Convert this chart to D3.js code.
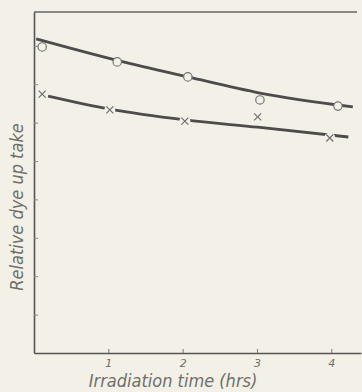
<!DOCTYPE html>
<html>
<head>
<meta charset="utf-8">
<script src="https://cdn.jsdelivr.net/npm/d3@7"></script>
<style>
  html, body { margin: 0; padding: 0; background: #f3f0e7; }
  svg { display: block; }
  text { font-family: "DejaVu Sans", sans-serif; font-style: italic; fill: #6f6f6a; }
</style>
</head>
<body>
<div id="chart"></div>
<script>
// measured points (hrs, relative uptake)
var circleX = [0.11, 1.12, 2.07, 3.04, 4.09];
var circleY = [0.797, 0.758, 0.719, 0.659, 0.643];
var crossX = [0.11, 1.02, 2.03, 3.01, 3.98];
var crossY = [0.674, 0.633, 0.604, 0.615, 0.560];

// drawn smooth curves
var circleCurveX = [0.03, 1.12, 2.07, 3.04, 4.29];
var circleCurveY = [0.818, 0.762, 0.719, 0.677, 0.641];
var crossCurveX = [0.19, 1.02, 2.03, 3.01, 4.23];
var crossCurveY = [0.669, 0.635, 0.607, 0.588, 0.5625];

var xTicks = [1, 2, 3, 4];
var yTicks = [0.1, 0.2, 0.3, 0.4, 0.5, 0.6, 0.7, 0.8];

var W = 362, H = 392;
var bg = "#f3f0e7", ink = "#4c4c4c";

var svg = d3.select("#chart").append("svg")
    .attr("width", W)
    .attr("height", H);

var xScale = d3.scaleLinear().domain([0, 4.4]).range([34, 361]);
var yScale = d3.scaleLinear().domain([0, 0.888]).range([353, 12]);

// top border line
svg.append("line")
    .attr("x1", xScale(0)).attr("x2", 357)
    .attr("y1", yScale(0.888)).attr("y2", yScale(0.888))
    .attr("stroke", "#666").attr("stroke-width", 1.4);

// x axis, ticks pointing up
var xAxis = d3.axisBottom(xScale)
    .tickValues(xTicks)
    .tickSizeInner(-4)
    .tickSizeOuter(0)
    .tickPadding(6)
    .tickFormat(d3.format("d"));

var gx = svg.append("g")
    .attr("transform", "translate(0," + yScale(0) + ")")
    .call(xAxis);
gx.select(".domain").attr("stroke", "#555").attr("stroke-width", 1.6);
gx.selectAll(".tick line").attr("stroke", "#777");
gx.selectAll(".tick text")
    .style("font-size", "11px")
    .style("font-family", "DejaVu Sans")
    .attr("fill", "#6f6f6a");

// y axis, ticks pointing right, no labels
var yAxis = d3.axisLeft(yScale)
    .tickValues(yTicks)
    .tickSizeInner(-4)
    .tickSizeOuter(0)
    .tickFormat("");

var gy = svg.append("g")
    .attr("transform", "translate(" + xScale(0) + ",0)")
    .call(yAxis);
gy.select(".domain").attr("stroke", "#555").attr("stroke-width", 1.6);
gy.selectAll(".tick line").attr("stroke", "#888");

// curves
var line = d3.line()
    .x(function (d) { return xScale(d[0]); })
    .y(function (d) { return yScale(d[1]); })
    .curve(d3.curveMonotoneX);

var curves = [
    d3.zip(circleCurveX, circleCurveY),
    d3.zip(crossCurveX, crossCurveY)
];

svg.selectAll("path.curve")
    .data(curves)
    .enter()
    .append("path")
    .attr("class", "curve")
    .attr("d", line)
    .attr("fill", "none")
    .attr("stroke", ink)
    .attr("stroke-width", 2.8)
    .attr("stroke-linecap", "butt");

// open circles
svg.selectAll("circle.pt")
    .data(d3.zip(circleX, circleY))
    .enter()
    .append("circle")
    .attr("class", "pt")
    .attr("cx", function (d) { return xScale(d[0]); })
    .attr("cy", function (d) { return yScale(d[1]); })
    .attr("r", 4.2)
    .attr("fill", bg)
    .attr("stroke", "#777")
    .attr("stroke-width", 1.2);

// crosses with a small gap in the line behind them
var crosses = svg.selectAll("g.cross")
    .data(d3.zip(crossX, crossY))
    .enter()
    .append("g")
    .attr("class", "cross")
    .attr("transform", function (d) {
        return "translate(" + xScale(d[0]) + "," + yScale(d[1]) + ")";
    });

crosses.append("circle")
    .attr("r", 5.5)
    .attr("fill", bg);

crosses.append("path")
    .attr("d", "M-3.5,-3.5L3.5,3.5M-3.5,3.5L3.5,-3.5")
    .attr("stroke", "#707070")
    .attr("stroke-width", 1.2)
    .attr("fill", "none");

// axis titles
svg.append("text")
    .attr("transform", "translate(23,207) rotate(-90)")
    .attr("text-anchor", "middle")
    .style("font-size", "18px")
    .style("font-stretch", "condensed")
    .text("Relative dye up take");

svg.append("text")
    .attr("x", 173)
    .attr("y", 387)
    .attr("text-anchor", "middle")
    .style("font-size", "18px")
    .style("font-stretch", "condensed")
    .text("Irradiation time (hrs)");
</script>
</body>
</html>
